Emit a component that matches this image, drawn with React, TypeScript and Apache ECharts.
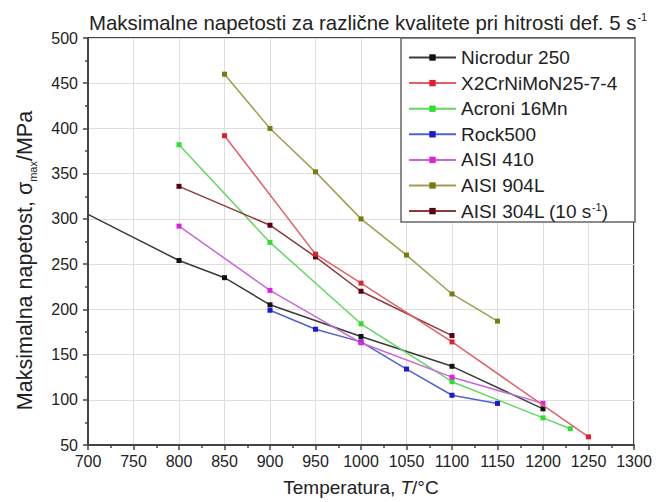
import React, { useEffect, useRef } from "react";
import * as echarts from "echarts";

const seriesNames = [
  "Nicrodur 250",
  "X2CrNiMoN25-7-4",
  "Acroni 16Mn",
  "Rock500",
  "AISI 410",
  "AISI 904L",
  "AISI 304L (10 s-1)",
];

const nicrodur: number[][] = [[700, 305], [800, 254], [850, 235], [900, 205], [1000, 170], [1100, 137], [1200, 90]];
const x2cr: number[][] = [[850, 392], [950, 261], [1000, 229], [1100, 164], [1250, 59]];
const acroni: number[][] = [[800, 382], [900, 274], [1000, 184], [1100, 120], [1200, 80], [1230, 68]];
const rock500: number[][] = [[900, 199], [950, 178], [1000, 164], [1050, 134], [1100, 105], [1150, 96]];
const aisi410: number[][] = [[800, 292], [900, 221], [1000, 163], [1100, 125], [1200, 96]];
const aisi904: number[][] = [[850, 460], [900, 400], [950, 352], [1000, 300], [1050, 260], [1100, 217], [1150, 187]];
const aisi304: number[][] = [[800, 336], [900, 293], [950, 258], [1000, 220], [1100, 171]];

const markerColors = ["#111111", "#e02030", "#2ee02e", "#1a1ad0", "#e020e0", "#7a7a10", "#5a0010"];
const lineColors = ["#3a3a3a", "#e06068", "#62d862", "#5062d0", "#c868d8", "#a0a050", "#8c3a3a"];

const FONT = "'Liberation Sans', Arial, sans-serif";

export default function App() {
  const ref = useRef<HTMLDivElement>(null);
  useEffect(() => {
    document.body.style.margin = "0";
    const chart = echarts.init(ref.current!, null, { renderer: "svg" });
    const datasets = [nicrodur, x2cr, acroni, rock500, aisi410, aisi904, aisi304];
    const series = datasets.map((d, i) => ({
      name: seriesNames[i],
      type: "line",
      z: i === 1 ? 4 : 2,
      data: d.map((p, j) =>
        i === 0 && j === 0 ? { value: p, symbol: "none" } : { value: p }
      ),
      symbol: "rect",
      symbolSize: 5,
      showSymbol: true,
      lineStyle: { color: lineColors[i], width: 1.5 },
      itemStyle: { color: markerColors[i] },
      emphasis: { disabled: true },
    }));
    chart.setOption({
      animation: false,
      textStyle: { fontFamily: FONT },
      title: {
        text: "{a|Maksimalne napetosti za različne kvalitete pri hitrosti def. 5 s}{b|-1}",
        left: 84,
        top: 6,
        textStyle: {
          fontWeight: "normal",
          rich: {
            a: { fontSize: 20.4, fontWeight: "normal", fontFamily: FONT, color: "#222", lineHeight: 22, verticalAlign: "bottom" },
            b: { fontSize: 11, fontWeight: "normal", fontFamily: FONT, color: "#222", lineHeight: 22, verticalAlign: "top", padding: [0, 0, 10, 1] },
          },
        },
      },
      legend: {
        orient: "vertical",
        left: 401,
        top: 38,
        padding: [10, 6, 0, 7],
        itemWidth: 47,
        itemHeight: 8,
        itemGap: 6.6,
        z: 10,
        data: seriesNames,
        formatter: (name: string) =>
          name === "AISI 304L (10 s-1)" ? "{a|AISI 304L (10 s}{b|-1}{a|)}" : "{a|" + name + "}",
        textStyle: {
          fontSize: 19,
          lineHeight: 19,
          color: "#222",
          rich: {
            a: { fontSize: 19, fontFamily: FONT, color: "#222", lineHeight: 19 },
            b: { fontSize: 11, fontFamily: FONT, color: "#222", lineHeight: 19, verticalAlign: "top" },
          },
        },
      },
      graphic: [
        {
          type: "rect",
          z: 3,
          shape: { x: 401, y: 38, width: 234, height: 184 },
          style: { fill: "#ffffff", stroke: "#666666", lineWidth: 1.5 },
        },
      ],
      grid: {
        left: 88,
        right: 22,
        top: 38,
        bottom: 56,
        show: true,
        borderColor: "#444",
        borderWidth: 2,
        backgroundColor: "transparent",
      },
      xAxis: {
        type: "value",
        min: 700,
        max: 1300,
        interval: 50,
        name: "Temperatura, {i|T}/°C",
        nameLocation: "middle",
        nameGap: 33,
        nameTextStyle: {
          fontSize: 19,
          color: "#222",
          rich: { i: { fontSize: 19, fontStyle: "italic", fontFamily: FONT, color: "#222" } },
        },
        axisLine: { show: true, lineStyle: { color: "#444", width: 2 } },
        axisTick: { show: true, inside: false, length: 5, lineStyle: { color: "#444", width: 1.5 } },
        minorTick: { show: true, splitNumber: 2, length: 3, lineStyle: { color: "#444", width: 1.5 } },
        axisLabel: { fontSize: 16, color: "#222", margin: 8, formatter: (v: number) => String(v) },
        splitLine: { show: true, lineStyle: { color: "#dedede", width: 1 } },
      },
      yAxis: {
        type: "value",
        min: 50,
        max: 500,
        interval: 50,
        name: "{a|Maksimalna napetost, σ}{b|max}{a|/MPa}",
        nameLocation: "middle",
        nameRotate: 90,
        nameGap: 50,
        nameTextStyle: {
          padding: [0, 38, 0, 0],
          rich: {
            a: { fontSize: 21.5, fontFamily: FONT, color: "#222", lineHeight: 26, verticalAlign: "middle" },
            b: { fontSize: 11, fontFamily: FONT, color: "#222", lineHeight: 26, verticalAlign: "bottom" },
          },
        },
        axisLine: { show: true, lineStyle: { color: "#444", width: 2 } },
        axisTick: { show: true, inside: false, length: 5, lineStyle: { color: "#444", width: 1.5 } },
        minorTick: { show: true, splitNumber: 2, length: 3, lineStyle: { color: "#444", width: 1.5 } },
        axisLabel: { fontSize: 16, color: "#222", margin: 10, formatter: (v: number) => String(v) },
        splitLine: { show: true, lineStyle: { color: "#dedede", width: 1 } },
      },
      series,
    });
    return () => chart.dispose();
  }, []);
  return <div ref={ref} style={{ width: 656, height: 502 }} />;
}
